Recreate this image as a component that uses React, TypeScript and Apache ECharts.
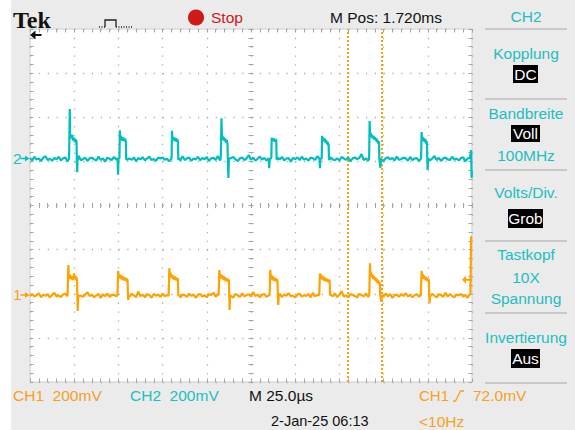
import React, { useEffect, useRef } from "react";
import * as echarts from "echarts";

// ---------------- data ----------------
const SAMPLE_STEP_US = 1.25; // baseline noise sample spacing
const HALF_SPAN_US = 125; // screen = 10 div x 25 us, centred
const CH1_OFFSET_MV = -408; // ground marker "1"
const CH2_OFFSET_MV = 211; // ground marker "2"
const TRIGGER_LEVEL_MV = 72;
const CURSOR_TIMES_US = [179.6, 198.8];

// baseline noise (mV, relative to channel ground), one value per 1.25 us
const ch2Noise = [
  4, -6, 9, -3, 2, -10, 6, 12, -5, 1,
  -8, 5, -2, 10, -7, 3, 7, -11, 2, -4,
  8, -3, 14, -6, 0, 5, -9, 3, 6, -2,
  -7, 11, -4, 2, -12, 6, 1, -5, 9, -3,
  5, -8, 3, 20, -6, 2, -4, 7, -10, 4,
  -2, 8, -6, 3, 11, -5, 0, -9, 6, 2,
  7, -4, 1, -11, 5, 9, -3, 4, -7, 12,
  -5, 3, 6, -8, 2, -2, 10, -6, 4, -1,
  8, -9, 3, 5, -4, 13, -7, 1, 6, -3,
  -6, 4, 9, -2, -10, 3, 7, -5, 2, 18,
  -4, 6, -8, 1, 11, -3, 5, -7, 0, 8,
  3, -10, 6, -2, 9, -6, 2, 4, -12, 5,
  -1, 7, -5, 10, -3, 2, -8, 6, 3, -4,
  12, -6, 1, 5, -9, 4, 8, -2, -6, 3,
  -7, 9, 2, -4, 6, -11, 3, 7, -1, 5,
  22, -5, 3, -8, 6, 1, -3, 10, -6, 2,
  -9, 4, 7, -2, 5, -7, 11, -4, 0, 6,
  3, -8, 9, -5, 2, 4, -10, 7, -3, 1,
  8, -6, 2, 13, -4, 5, -9, 3, 6, -2,
  -5, 10, -3, 1, -7, 4, 8, -11, 2, 5,
  -4,
];

const ch1Noise = [
  -3, 7, -5, 2, 10, -8, 4, -1, 6, -9,
  3, 12, -4, 1, -7, 5, 8, -3, -10, 2,
  6, -5, 9, 0, -6, 4, 15, -2, 3, -8,
  1, 7, -11, 5, -3, 9, -6, 2, 4, -4,
  10, -2, 6, -9, 3, -5, 8, 1, -7, 18,
  -3, 4, -8, 6, 2, -10, 7, -1, 5, -6,
  9, -4, 3, 11, -7, 0, 6, -3, -9, 4,
  2, -6, 8, -2, 5, -11, 3, 7, -4, 1,
  -8, 6, 2, 13, -5, 4, -2, 9, -7, 3,
  5, -3, -9, 7, 1, -6, 10, -4, 2, 6,
  -5, 16, -2, 4, -8, 3, 7, -6, 1, -10,
  6, 2, -4, 9, -7, 5, -1, 11, -3, 0,
  -9, 4, 8, -5, 2, -2, 6, -8, 12, -4,
  3, -6, 1, 7, -10, 5, 2, -3, 9, -7,
  4, 20, -5, 1, -8, 6, 3, -2, -9, 7,
  2, -4, 10, -6, 5, -1, 8, -7, 3, 1,
  -5, 9, -3, 6, -11, 2, 4, -6, 7, -2,
  11, -4, 3, -8, 1, 6, -5, 9, -3, 4,
  -7, 2, 8, -1, -9, 5, 3, -6, 12, -4,
  6, -2, -8, 4, 1, 7, -5, 3, -10, 5,
  2,
];

// pulses: [time from left edge (us), mV relative to ground]
const ch2Pulses = [
  [[22.1, 2], [22.3, 0], [22.5, 226], [22.7, 92], [23.0, 108], [23.4, 94], [23.8, 110], [24.2, 90], [24.6, 84], [25.0, 96], [25.4, 76], [25.8, 90], [26.1, 72], [26.3, 84], [26.5, -10], [26.7, -60], [26.9, 4], [27.3, -2]],
  [[49.5, 3], [49.8, -72], [50.1, 5], [50.6, 2], [50.8, 130], [51.1, 92], [51.5, 104], [51.9, 84], [52.3, 98], [52.7, 82], [53.1, 95], [53.5, 80], [53.9, 92], [54.2, 78], [54.4, 0], [54.8, -4]],
  [[79.7, -2], [80.1, 4], [80.3, 128], [80.6, 88], [81.0, 100], [81.4, 84], [81.8, 96], [82.2, 80], [82.6, 94], [83.0, 78], [83.4, 90], [83.7, 76], [83.9, -5], [84.3, 3]],
  [[107.9, 2], [108.3, 184], [108.6, 92], [108.9, 104], [109.3, 86], [109.7, 98], [110.1, 80], [110.5, 92], [110.9, 74], [111.3, 86], [111.7, 68], [111.9, 0], [112.2, -86], [112.5, -5], [112.9, 3]],
  [[135.0, 3], [135.3, -42], [135.6, 0], [136.5, 4], [136.7, 96], [137.0, 84], [137.4, 94], [137.8, 80], [138.2, 92], [138.6, 78], [139.0, 90], [139.3, 80], [139.5, 0], [139.9, -3]],
  [[163.7, 2], [164.0, -42], [164.3, 0], [165.0, 3], [165.2, 105], [165.5, 86], [165.9, 98], [166.3, 80], [166.7, 92], [167.1, 74], [167.5, 86], [167.9, 68], [168.3, 78], [168.7, 60], [168.9, 70], [169.1, 0], [169.5, -4]],
  [[191.8, 0], [192.1, 172], [192.4, 106], [192.7, 118], [193.1, 98], [193.5, 110], [193.9, 92], [194.3, 104], [194.7, 88], [195.1, 98], [195.5, 84], [195.9, 94], [196.2, 76], [196.6, 86], [197.0, 70], [197.4, 80], [197.6, 0], [198.2, -40], [198.5, 2], [198.9, -3]],
  [[221.2, 3], [221.5, 122], [221.8, 88], [222.1, 100], [222.5, 82], [222.9, 94], [223.3, 76], [223.7, 88], [224.1, 70], [224.5, 80], [224.7, 0], [224.9, -50], [225.2, 2], [225.6, -2]],
  [[249.0, 4], [249.5, 40], [249.8, -86], [250.0, -60]],
];

const ch1Pulses = [
  [[21.3, 0], [21.7, 138], [22.0, 82], [22.4, 96], [22.8, 76], [23.2, 90], [23.6, 72], [24.0, 86], [24.4, 70], [24.9, 100], [25.2, 78], [25.6, 90], [26.0, 70], [26.4, 82], [26.6, 68], [26.8, 0], [27.0, -70], [27.2, 2], [27.6, -3]],
  [[49.5, 2], [49.9, 112], [50.2, 84], [50.6, 96], [51.0, 78], [51.4, 92], [51.8, 74], [52.2, 88], [52.6, 70], [53.0, 84], [53.4, 68], [53.8, 80], [54.2, 66], [54.6, 78], [55.0, 64], [55.2, 74], [55.4, 0], [55.6, -20], [55.9, 2]],
  [[78.4, -2], [78.8, 123], [79.1, 92], [79.5, 104], [79.9, 82], [80.3, 94], [80.7, 76], [81.1, 90], [81.5, 72], [81.9, 86], [82.3, 70], [82.7, 82], [83.1, 68], [83.5, 78], [83.7, 70], [83.9, 0], [84.3, 3]],
  [[106.7, 3], [107.1, 115], [107.4, 84], [107.8, 96], [108.2, 78], [108.6, 92], [109.0, 74], [109.4, 88], [109.8, 70], [110.2, 84], [110.6, 66], [111.0, 80], [111.4, 64], [111.8, 76], [112.2, 62], [112.5, 72], [112.7, 0], [112.9, -66], [113.2, 2], [113.6, -2]],
  [[135.5, 0], [135.9, 116], [136.2, 80], [136.6, 92], [137.0, 72], [137.4, 86], [137.8, 68], [138.2, 82], [138.6, 66], [139.0, 78], [139.4, 64], [139.8, 74], [140.0, 64], [140.2, 0], [140.4, -43], [140.7, 2], [141.1, -2]],
  [[163.6, 2], [164.0, 100], [164.3, 82], [164.7, 94], [165.1, 74], [165.5, 88], [165.9, 70], [166.3, 84], [166.7, 66], [167.1, 80], [167.5, 64], [167.9, 76], [168.3, 62], [168.7, 74], [169.1, 60], [169.5, 70], [169.7, 0], [170.1, 3]],
  [[191.9, 0], [192.3, 146], [192.6, 92], [192.9, 104], [193.3, 84], [193.7, 96], [194.1, 76], [194.5, 88], [194.9, 70], [195.3, 82], [195.7, 64], [196.1, 76], [196.5, 58], [196.9, 70], [197.3, 52], [197.7, 62], [197.9, 50], [198.1, 0], [198.7, -28], [199.0, 2], [199.4, -2]],
  [[221.1, 2], [221.5, 112], [221.8, 84], [222.2, 96], [222.6, 76], [223.0, 90], [223.4, 72], [223.8, 84], [224.2, 68], [224.6, 80], [225.0, 64], [225.4, 76], [225.6, 66], [225.8, 0], [226.0, -35], [226.3, 2], [226.7, -2]],
  [[249.1, 3], [249.5, 266], [250.0, 266]],
];

// ---------------- styling ----------------
const CYAN = "#00bfbf";
const CYAN_TXT = "#1cbfc0";
const ORANGE = "#ffa200";
const ORANGE_TXT = "#f6a11a";
const RED = "#d01818";
const SANS = '"Liberation Sans", Arial, Helvetica, sans-serif';
const SERIF = '"Liberation Serif", "Times New Roman", serif';

function buildTrace(noise: number[], pulses: number[][][], offset: number) {
  const windows = pulses.map((p) => [p[0][0], p[p.length - 1][0]]);
  const pts: number[][] = [];
  noise.forEach((v, i) => {
    const t = i * SAMPLE_STEP_US;
    if (windows.some(([a, b]) => t >= a && t <= b)) return;
    pts.push([t, v]);
  });
  pulses.forEach((p) => p.forEach((q) => pts.push([q[0], q[1]])));
  pts.sort((a, b) => a[0] - b[0]);
  return pts.map(([t, v]) => [t - HALF_SPAN_US, v + offset]);
}

function T(text: string, x: number, y: number, fill: string, size = 15.5, align = "left", weight = "normal", family = SANS) {
  return {
    type: "text",
    x,
    y,
    silent: true,
    z: 100,
    style: { text, fill, font: `${weight} ${size}px ${family}`, align, verticalAlign: "middle" },
  };
}
function L(x1: number, y1: number, x2: number, y2: number, stroke: string, lineWidth = 1.5, lineDash?: number[]) {
  return { type: "line", silent: true, z: 100, shape: { x1, y1, x2, y2 }, style: { stroke, lineWidth, lineDash } };
}
function R(x: number, y: number, width: number, height: number, fill: string) {
  return { type: "rect", silent: true, z: 99, shape: { x, y, width, height }, style: { fill } };
}
function PG(points: number[][], fill: string) {
  return { type: "polygon", silent: true, z: 100, shape: { points }, style: { fill } };
}
function PL(points: number[][], stroke: string, lineWidth = 1.5) {
  return { type: "polyline", silent: true, z: 100, shape: { points }, style: { stroke, lineWidth, fill: null } };
}

const SEP = "#bdbdbd";
const PX = 526; // panel centre

const graphics: any[] = [
  R(0, 0, 11, 430, "#ffffff"),
  // top bar
  T("Tek", 13, 19.5, "#111", 24, "left", "bold", SERIF),
  L(99, 27, 105, 27, "#222", 1.3, [1, 1.5]),
  PL([[105, 27], [105, 20], [116, 20], [116, 27]], "#222", 1.3),
  L(116, 27, 132, 27, "#222", 1.3, [1, 1.5]),
  { type: "circle", silent: true, z: 100, shape: { cx: 196, cy: 17.5, r: 8 }, style: { fill: RED } },
  T("Stop", 211, 17.5, RED),
  T("M Pos: 1.720ms", 330, 17.5, "#111"),
  // right panel
  T("CH2", PX, 16, CYAN_TXT, 15.5, "center"),
  L(485, 29, 567, 29, SEP),
  T("Kopplung", PX, 53, CYAN_TXT, 15.5, "center"),
  R(513, 65, 25, 18, "#000"),
  T("DC", 525.5, 74, "#fff", 15.5, "center"),
  L(485, 99, 567, 99, SEP),
  T("Bandbreite", PX, 113, CYAN_TXT, 15.5, "center"),
  R(511, 125, 29, 17, "#000"),
  T("Voll", 525.5, 133.5, "#fff", 15.5, "center"),
  T("100MHz", PX, 155, CYAN_TXT, 15.5, "center"),
  L(485, 170, 567, 170, SEP),
  T("Volts/Div.", PX, 192, CYAN_TXT, 15.5, "center"),
  R(508, 209, 35, 19, "#000"),
  T("Grob", 525.5, 218.5, "#fff", 15.5, "center"),
  L(485, 241, 567, 241, SEP),
  T("Tastkopf", PX, 254, CYAN_TXT, 15.5, "center"),
  T("10X", PX, 277, CYAN_TXT, 15.5, "center"),
  T("Spannung", PX, 298, CYAN_TXT, 15.5, "center"),
  L(485, 313, 567, 313, SEP),
  T("Invertierung", PX, 337, CYAN_TXT, 15.5, "center"),
  R(511, 349, 29, 19, "#000"),
  T("Aus", 525.5, 358.5, "#fff", 15.5, "center"),
  L(485, 383, 567, 383, SEP),
  // bottom bar
  T("CH1  200mV", 13, 395, ORANGE_TXT),
  T("CH2  200mV", 130, 395, CYAN_TXT),
  T("M 25.0\u00b5s", 249, 395, "#111"),
  T("2-Jan-25 06:13", 271, 421, "#111", 14.5),
  T("CH1", 419, 395, ORANGE_TXT, 15),
  PL([[453, 401], [455.5, 401], [460.5, 391], [464, 391]], ORANGE_TXT, 1.3),
  T("72.0mV", 473, 395, ORANGE_TXT),
  T("<10Hz", 419, 421, ORANGE_TXT),
  // ground markers
  T("2", 13, 158.5, CYAN_TXT),
  L(20.5, 158.5, 26, 158.5, CYAN, 1.5),
  PG([[29.5, 158.5], [25, 155.5], [25, 161.5]], CYAN),
  T("1", 13, 294.5, ORANGE_TXT),
  L(20.5, 295, 26, 295, ORANGE, 1.5),
  PG([[29.5, 295], [25, 292], [25, 298]], ORANGE),
  // horizontal position arrow
  PG([[30, 35], [35.5, 30.5], [35.5, 39.5]], "#111"),
  L(35, 35, 41.5, 35, "#111", 2),
];

const TICK = { color: "#a4a4a4", width: 1 };
const xBase = { type: "value", min: -HALF_SPAN_US, max: HALF_SPAN_US, interval: 25, axisLabel: { show: false }, splitLine: { show: false } };
const yBase = { type: "value", min: -800, max: 800, interval: 200, axisLabel: { show: false }, splitLine: { show: false } };
const edgeTicks = (inside: boolean, len: number) => ({
  axisTick: { show: true, inside, length: len, lineStyle: TICK },
  minorTick: { show: true, splitNumber: 5, length: len, lineStyle: TICK },
});

const option: any = {
  animation: false,
  backgroundColor: "#ebebeb",
  grid: {
    left: 30,
    top: 29,
    width: 442,
    height: 353,
    show: true,
    backgroundColor: "#ffffff",
    borderColor: "#cfcfcf",
    borderWidth: 1,
    containLabel: false,
    outerBoundsMode: "none",
  },
  xAxis: [
    { ...xBase, position: "bottom", axisLine: { show: false, onZero: false }, ...edgeTicks(true, 3.5), splitLine: { show: true, lineStyle: { color: "#b0b0b0", width: 1.3, type: [1.3, 7.525] } } },
    { ...xBase, position: "top", axisLine: { show: false, onZero: false }, ...edgeTicks(true, 3.5) },
    { ...xBase, position: "bottom", axisLine: { show: false, onZero: true, onZeroAxisIndex: 0 }, ...edgeTicks(true, 2.5) },
    { ...xBase, position: "bottom", axisLine: { show: false, onZero: true, onZeroAxisIndex: 0 }, ...edgeTicks(false, 2.5) },
  ],
  yAxis: [
    { ...yBase, position: "left", axisLine: { show: false, onZero: false }, ...edgeTicks(true, 3.5), splitLine: { show: true, lineStyle: { color: "#b0b0b0", width: 1.3, type: [1.3, 7.54] } } },
    { ...yBase, position: "right", axisLine: { show: false, onZero: false }, ...edgeTicks(true, 3.5) },
    { ...yBase, position: "left", axisLine: { show: false, onZero: true, onZeroAxisIndex: 0 }, ...edgeTicks(true, 2.5) },
    { ...yBase, position: "left", axisLine: { show: false, onZero: true, onZeroAxisIndex: 0 }, ...edgeTicks(false, 2.5) },
  ],
  graphic: graphics,
  series: [
    {
      type: "line",
      name: "CH2",
      xAxisIndex: 0,
      yAxisIndex: 0,
      data: buildTrace(ch2Noise, ch2Pulses, CH2_OFFSET_MV),
      symbol: "none",
      showSymbol: false,
      silent: true,
      clip: true,
      z: 5,
      lineStyle: { color: CYAN, width: 2.2 },
      itemStyle: { color: CYAN },
      emphasis: { disabled: true },
      markLine: {
        silent: true,
        symbol: ["none", "none"],
        label: { show: false },
        lineStyle: { color: ORANGE, type: [2, 2], width: 2 },
        data: CURSOR_TIMES_US.map((t) => ({ xAxis: t - HALF_SPAN_US })),
      },
    },
    {
      type: "line",
      name: "CH1",
      xAxisIndex: 0,
      yAxisIndex: 0,
      data: buildTrace(ch1Noise, ch1Pulses, CH1_OFFSET_MV),
      symbol: "none",
      showSymbol: false,
      silent: true,
      clip: true,
      z: 5,
      lineStyle: { color: ORANGE, width: 2.2 },
      itemStyle: { color: ORANGE },
      emphasis: { disabled: true },
      markPoint: {
        silent: true,
        symbol: "path://M0,4 L4,0 L4,3 L10,3 L10,5 L4,5 L4,8 Z",
        symbolSize: [10, 8],
        symbolOffset: [-5, 0],
        itemStyle: { color: ORANGE },
        label: { show: false },
        data: [{ coord: [HALF_SPAN_US, CH1_OFFSET_MV + TRIGGER_LEVEL_MV] }],
      },
    },
  ],
};

export default function App() {
  const ref = useRef<HTMLDivElement>(null);
  useEffect(() => {
    const chart = echarts.init(ref.current as HTMLDivElement, null, { renderer: "svg" });
    chart.setOption(option);
    return () => chart.dispose();
  }, []);
  return <div ref={ref} style={{ position: "fixed", left: 0, top: 0, width: 575, height: 430 }} />;
}
